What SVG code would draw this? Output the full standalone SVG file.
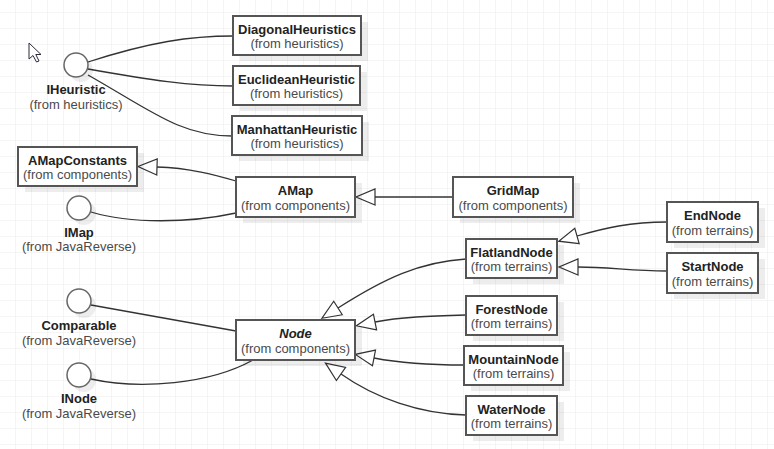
<svg xmlns="http://www.w3.org/2000/svg" width="774" height="449" viewBox="0 0 774 449">
<defs>
<pattern id="grid" x="15" y="12" width="16" height="16" patternUnits="userSpaceOnUse">
<path d="M0,0 H16 M0,0 V16" fill="none" stroke="#ececec" stroke-width="1"/>
</pattern>
<marker id="gen" markerUnits="userSpaceOnUse" markerWidth="22" markerHeight="20" viewBox="0 0 22 20" refX="1" refY="10" orient="auto" overflow="visible">
<path d="M1,2 L20,10 L1,18 Z" fill="#fff" stroke="#333" stroke-width="1.2" stroke-linejoin="miter"/>
</marker>
</defs>
<style>
.box{fill:#fff;stroke:#555;stroke-width:2}
.sh{fill:#000;fill-opacity:0.07}
.ifc{fill:#fff;stroke:#666;stroke-width:1.5}
.nm{font-family:"Liberation Sans",Arial,sans-serif;font-size:13px;font-weight:bold;fill:#222;text-anchor:middle}
.sb{font-family:"Liberation Sans",Arial,sans-serif;font-size:13px;fill:#4a4a4a;text-anchor:middle}
.it{font-style:italic}
.ln{fill:none;stroke:#333;stroke-width:1.3}
</style>
<rect width="774" height="449" fill="#fff"/>
<rect width="774" height="449" fill="url(#grid)"/>
<path d="M29,43 L29,59 L33,55.5 L36.5,62 L39,61 L35.8,54.5 L41,54.5 Z" fill="#fff" stroke="#2a2a3a" stroke-width="1"/>

<g id="connectors">
<path class="ln" d="M88,62 C150,42 190,36 233,36"/>
<path class="ln" d="M88,69 C150,80 190,86 233,86"/>
<path class="ln" d="M88,75 C150,110 180,136 232,136"/>
<path class="ln" d="M236,181 C215,175 190,168 157,167" marker-end="url(#gen)"/>
<path class="ln" d="M91,212 C130,224 190,223 236,213"/>
<path class="ln" d="M453,197 L375,197" marker-end="url(#gen)"/>
<path class="ln" d="M667,222 C630,222 605,228 577,236" marker-end="url(#gen)"/>
<path class="ln" d="M667,271 C630,271 610,267 578,267" marker-end="url(#gen)"/>
<path class="ln" d="M466,259 C420,262 385,278 338,308" marker-end="url(#gen)"/>
<path class="ln" d="M466,315 C430,316 400,317 375,322" marker-end="url(#gen)"/>
<path class="ln" d="M464,365 C430,365 400,363 374,358" marker-end="url(#gen)"/>
<path class="ln" d="M466,415 C420,414 375,398 341,374" marker-end="url(#gen)"/>
<path class="ln" d="M91,305 L236,331"/>
<path class="ln" d="M91,379 C140,390 210,384 253,360"/>
</g>

<g id="IHeuristic">
<circle class="sh" cx="81" cy="70" r="12"/>
<circle class="ifc" cx="76" cy="65" r="12"/>
<text class="nm" x="76" y="94">IHeuristic</text>
<text class="sb" x="76" y="109">(from heuristics)</text>
</g>
<g id="IMap">
<circle class="sh" cx="84" cy="213" r="12"/>
<circle class="ifc" cx="79" cy="208" r="12"/>
<text class="nm" x="79" y="236.5">IMap</text>
<text class="sb" x="79" y="251">(from JavaReverse)</text>
</g>
<g id="Comparable">
<circle class="sh" cx="84" cy="306" r="12"/>
<circle class="ifc" cx="79" cy="301" r="12"/>
<text class="nm" x="79" y="330">Comparable</text>
<text class="sb" x="79" y="345">(from JavaReverse)</text>
</g>
<g id="INode">
<circle class="sh" cx="84" cy="380" r="12"/>
<circle class="ifc" cx="79" cy="375" r="12"/>
<text class="nm" x="79" y="403">INode</text>
<text class="sb" x="79" y="418">(from JavaReverse)</text>
</g>

<g id="DiagonalHeuristics">
<rect class="sh" x="240" y="22" width="128" height="39"/>
<rect class="box" x="233" y="16" width="128" height="39"/>
<text class="nm" x="297" y="33.5">DiagonalHeuristics</text>
<text class="sb" x="297" y="48">(from heuristics)</text>
</g>
<g id="EuclideanHeuristic">
<rect class="sh" x="240" y="72" width="127" height="39"/>
<rect class="box" x="233" y="66" width="127" height="39"/>
<text class="nm" x="296.5" y="83.5">EuclideanHeuristic</text>
<text class="sb" x="296.5" y="98">(from heuristics)</text>
</g>
<g id="ManhattanHeuristic">
<rect class="sh" x="239" y="122" width="130" height="39"/>
<rect class="box" x="232" y="116" width="130" height="39"/>
<text class="nm" x="297" y="133.5">ManhattanHeuristic</text>
<text class="sb" x="297" y="148">(from heuristics)</text>
</g>
<g id="AMapConstants">
<rect class="sh" x="25" y="153" width="119" height="39"/>
<rect class="box" x="18" y="147" width="119" height="39"/>
<text class="nm" x="77.5" y="164.5">AMapConstants</text>
<text class="sb" x="77.5" y="179">(from components)</text>
</g>
<g id="AMap">
<rect class="sh" x="243" y="183" width="119" height="40"/>
<rect class="box" x="236" y="177" width="119" height="40"/>
<text class="nm" x="295.5" y="195">AMap</text>
<text class="sb" x="295.5" y="209.5">(from components)</text>
</g>
<g id="GridMap">
<rect class="sh" x="460" y="183" width="120" height="40"/>
<rect class="box" x="453" y="177" width="120" height="40"/>
<text class="nm" x="513" y="195">GridMap</text>
<text class="sb" x="513" y="209.5">(from components)</text>
</g>
<g id="EndNode">
<rect class="sh" x="674" y="208" width="91" height="40"/>
<rect class="box" x="667" y="202" width="91" height="40"/>
<text class="nm" x="712.5" y="220">EndNode</text>
<text class="sb" x="712.5" y="234.5">(from terrains)</text>
</g>
<g id="StartNode">
<rect class="sh" x="674" y="259" width="91" height="40"/>
<rect class="box" x="667" y="253" width="91" height="40"/>
<text class="nm" x="712.5" y="271">StartNode</text>
<text class="sb" x="712.5" y="285.5">(from terrains)</text>
</g>
<g id="FlatlandNode">
<rect class="sh" x="473" y="245" width="91" height="39"/>
<rect class="box" x="466" y="239" width="91" height="39"/>
<text class="nm" x="511.5" y="256.5">FlatlandNode</text>
<text class="sb" x="511.5" y="271">(from terrains)</text>
</g>
<g id="Node">
<rect class="sh" x="243" y="326" width="119" height="40"/>
<rect class="box" x="236" y="320" width="119" height="40"/>
<text class="nm it" x="295.5" y="338">Node</text>
<text class="sb" x="295.5" y="352.5">(from components)</text>
</g>
<g id="ForestNode">
<rect class="sh" x="473" y="302" width="91" height="39"/>
<rect class="box" x="466" y="296" width="91" height="39"/>
<text class="nm" x="511.5" y="313.5">ForestNode</text>
<text class="sb" x="511.5" y="328">(from terrains)</text>
</g>
<g id="MountainNode">
<rect class="sh" x="471" y="352" width="99" height="39"/>
<rect class="box" x="464" y="346" width="99" height="39"/>
<text class="nm" x="513.5" y="363.5">MountainNode</text>
<text class="sb" x="513.5" y="378">(from terrains)</text>
</g>
<g id="WaterNode">
<rect class="sh" x="473" y="402" width="91" height="39"/>
<rect class="box" x="466" y="396" width="91" height="39"/>
<text class="nm" x="511.5" y="413.5">WaterNode</text>
<text class="sb" x="511.5" y="428">(from terrains)</text>
</g>
</svg>
